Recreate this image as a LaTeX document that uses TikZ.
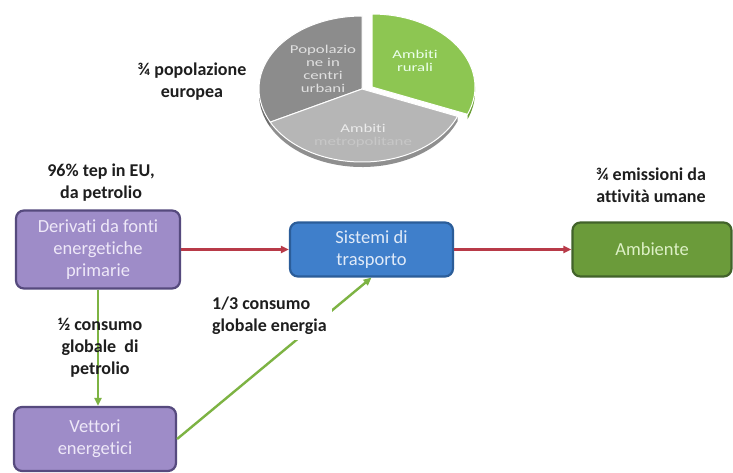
\documentclass[tikz,border=0pt]{standalone}
\usepackage{fontspec}
\setmainfont{Carlito}[Ligatures=CommonOff]
\usetikzlibrary{arrows.meta}
\definecolor{purpfill}{HTML}{9E8CC8}
\definecolor{purpline}{HTML}{564A7E}
\definecolor{purptext}{HTML}{EEE8F8}
\definecolor{bluefill}{HTML}{3F7FCB}
\definecolor{blueline}{HTML}{2B5D99}
\definecolor{bluetext}{HTML}{E0EAF8}
\definecolor{grnfill}{HTML}{6B9B3A}
\definecolor{grnline}{HTML}{42632A}
\definecolor{grntext}{HTML}{DDF0C6}
\definecolor{redarr}{HTML}{B83A48}
\definecolor{grnarr}{HTML}{7DB343}
\definecolor{lbltext}{HTML}{1E1E1E}
\definecolor{piedark}{HTML}{8C8C8C}
\definecolor{piedarkrim}{HTML}{6E6E6E}
\definecolor{pielight}{HTML}{B6B6B6}
\definecolor{pielightrim}{HTML}{8F8F8F}
\definecolor{piegreen}{HTML}{8DC652}
\definecolor{piegreenrim}{HTML}{6A9F35}
\begin{document}
\begin{tikzpicture}[x=1pt,y=-1pt,
  boxnode/.style={draw, rounded corners=8pt, line width=2.2pt, align=center,
    font=\fontsize{18.5}{22}\selectfont, inner sep=0pt},
  lbl/.style={align=center, text=lbltext, font=\fontsize{18}{22}\selectfont\bfseries, inner sep=2pt},
  pietext/.style={align=center, font=\fontsize{12}{13}\selectfont, xscale=1.4, inner sep=0pt},
  redarrow/.style={draw=redarr, line width=2.2pt, -{Triangle[length=8pt,width=7pt]}},
  grnarrow/.style={draw=grnarr, line width=2.4pt, -{Triangle[length=8pt,width=7pt]}}
]
\useasboundingbox (0,0) rectangle (733,473);
\fill[white] (0,0) rectangle (733,473);

% pie chart
\begin{scope}[shift={(362,89)}]
  % rims
  \fill[pielightrim] (207:103pt and 73pt) arc[start angle=207,end angle=338,x radius=103pt,y radius=73pt]
     -- ++(0pt,-5pt) arc[start angle=338,end angle=207,x radius=103pt,y radius=73pt] -- cycle;
  \fill[piedarkrim] (180:103pt and 73pt) arc[start angle=180,end angle=207,x radius=103pt,y radius=73pt]
     -- ++(0pt,-5pt) arc[start angle=207,end angle=180,x radius=103pt,y radius=73pt] -- cycle;
  \begin{scope}[shift={(10pt,2pt)}]
    \fill[piegreenrim] (338:103pt and 73pt) arc[start angle=338,end angle=360,x radius=103pt,y radius=73pt]
       -- ++(0pt,-5pt) arc[start angle=360,end angle=338,x radius=103pt,y radius=73pt] -- cycle;
    \filldraw[fill=piegreen, draw=white, line width=1pt] (0pt,0pt) -- (-22:103pt and 73pt)
       arc[start angle=-22,end angle=90,x radius=103pt,y radius=73pt] -- cycle;
  \end{scope}
  \filldraw[fill=piedark, draw=white, line width=1pt] (0pt,0pt) -- (90:103pt and 73pt)
     arc[start angle=90,end angle=207,x radius=103pt,y radius=73pt] -- cycle;
  \filldraw[fill=pielight, draw=white, line width=1pt] (0pt,0pt) -- (207:103pt and 73pt)
     arc[start angle=207,end angle=338,x radius=103pt,y radius=73pt] -- cycle;
\end{scope}
\node[pietext, text=white!88!black] (pieurb) at (323,69) {Popolazio\\ne in\\centri\\urbani};
\node[pietext, text=white!92!green] (pierur) at (415,61) {Ambiti\\rurali};
\node[pietext, text=white!92!black] (piemet1) at (363,128) {Ambiti};
\node[pietext, text=white!78!black] (piemet2) at (363,142) {metropolitane};

% labels
\node[lbl] (lpop) at (192,82) {¾ popolazione\\europea};
\node[lbl] (lpet) at (101,183) {96\% tep in EU,\\da petrolio};
\node[lbl] (lemi) at (651,185) {¾ emissioni da\\attività umane};

% boxes
\node[boxnode, fill=purpfill, draw=purpline, text=purptext, minimum width=164pt, minimum height=78pt]
  (der) at (98,249.5) {Derivati da fonti\\energetiche\\primarie};
\node[boxnode, fill=bluefill, draw=blueline, text=bluetext, minimum width=163pt, minimum height=54pt]
  (sis) at (371.5,249.5) {Sistemi di\\trasporto};
\node[boxnode, fill=grnfill, draw=grnline, text=grntext, minimum width=159pt, minimum height=54pt]
  (amb) at (652,249.5) {Ambiente};
\node[boxnode, fill=purpfill, draw=purpline, text=purptext, minimum width=162pt, minimum height=64pt]
  (vet) at (95,439) {Vettori\\energetici};

% connectors
\draw[redarrow] (der) -- (sis);
\draw[redarrow] (sis) -- (amb);
\draw[grnarrow] (der.south) -- (der.south |- vet.north);
\draw[grnarrow] (vet.east) -- (sis.south);

\node[lbl] (lhalf) at (100,348) {½ consumo\\globale~ di\\petrolio};
\node[lbl, align=left, fill=white, inner sep=5pt, anchor=west] (lthird) at (207,316) {1/3 consumo\\globale energia};
\end{tikzpicture}
\end{document}
